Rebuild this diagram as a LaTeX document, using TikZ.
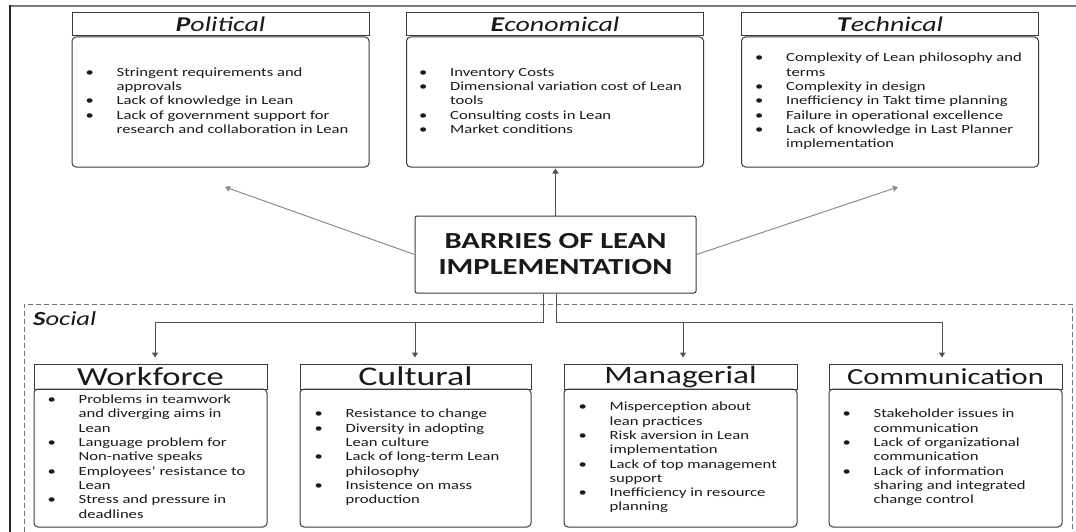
\documentclass[tikz,border=0pt]{standalone}
\usepackage{fontspec}
\setmainfont{Carlito}[FakeStretch=1.33]
\usetikzlibrary{arrows.meta}

\definecolor{boxc}{HTML}{3A3A3A}
\definecolor{txt}{HTML}{1A1A1A}
\definecolor{lightln}{HTML}{8C8C8C}
\definecolor{darkln}{HTML}{505050}
\definecolor{framegrey}{HTML}{7A7A7A}

% bullet list: bullet column, then the item text
\newcommand\blist[1]{\begin{tabular}{@{}p{31pt}@{}l@{}}#1\end{tabular}}
\newcommand\bul{\textbullet}

\tikzset{
  ttl/.style={draw=boxc, line width=1pt, inner sep=0pt, text=txt},
  toptitle/.style={ttl, minimum width=297pt, minimum height=23pt,
    font=\itshape\fontsize{21}{24}\selectfont},
  bottitle/.style={ttl, minimum width=233pt, minimum height=25pt},
  body/.style={draw=boxc, line width=1pt, rounded corners=4pt, inner sep=0pt},
  topbody/.style={body, minimum width=297pt, minimum height=130pt},
  botbody/.style={body, minimum width=233pt, minimum height=138pt},
  lst/.style={anchor=west, inner sep=0pt, text=txt,
    font=\fontsize{12.5}{14.3}\selectfont},
  hub/.style={draw=boxc, line width=1pt, rounded corners=2pt, fill=white,
    minimum width=281pt, minimum height=77pt, align=center, text=txt,
    font=\bfseries\fontsize{23}{26}\selectfont},
  tipa/.style={-{Triangle[length=5pt,width=6pt]}},
  greyarrow/.style={tipa, draw=lightln, line width=1pt, color=lightln},
  darkline/.style={draw=darkln, line width=1pt},
  darkarrow/.style={darkline, tipa, color=darkln},
}

\begin{document}
\begin{tikzpicture}[x=1pt, y=-1pt]
\useasboundingbox (0,0) rectangle (1076,532);

% outer frame: top and left edges
\draw[framegrey, line width=2pt] (10,6) -- (1076,6);
\draw[black!85, line width=2pt] (10,5) -- (10,532);

% social group (dashed)
\draw[lightln!80!black, line width=1pt, dash pattern=on 5pt off 3pt]
  (24,532) -- (24,304) -- (1072,304) -- (1072,532);
\node[anchor=base west, inner sep=0pt, text=txt,
  font=\itshape\fontsize{20}{24}\selectfont] (soc) at (33,325) {\textbf{S}ocial};

% ---------- top categories ----------
\node[toptitle] (pt) at (220.5,24.5) {\textbf{P}olitical};
\node[topbody]  (pb) at (220.5,102) {};
\node[lst] (pl) at ([xshift=14pt]pb.west) {\blist{%
  \bul & Stringent requirements and\\
       & approvals\\
  \bul & Lack of knowledge in Lean\\
  \bul & Lack of government support for\\
       & research and collaboration in Lean}};

\node[toptitle] (et) at (555,24.5) {\textbf{E}conomical};
\node[topbody]  (eb) at (555,102) {};
\node[lst] (el) at ([xshift=13pt]eb.west) {\blist{%
  \bul & Inventory Costs\\
  \bul & Dimensional variation cost of Lean\\
       & tools\\
  \bul & Consulting costs in Lean\\
  \bul & Market conditions}};

\node[toptitle] (tt) at (890,24.5) {\textbf{T}echnical};
\node[topbody]  (tb) at (890,102) {};
\node[lst] (tl) at ([xshift=14pt]tb.west) {\blist{%
  \bul & Complexity of Lean philosophy and\\
       & terms\\
  \bul & Complexity in design\\
  \bul & Inefficiency in Takt time planning\\
  \bul & Failure in operational excellence\\
  \bul & Lack of knowledge in Last Planner\\
       & implementation}};

% ---------- central node ----------
\node[hub] (cb) at (555.5,254.5) {BARRIES OF LEAN\\IMPLEMENTATION};

\coordinate (pa) at (225,187);
\coordinate (ta) at (898,187);
\draw[greyarrow] (cb.west) -- (pa);
\draw[greyarrow] (cb.east) -- (ta);
\draw[darkarrow, shorten >=1pt] (cb.north) -- (cb.north |- eb.south);

% ---------- social categories ----------
\node[bottitle, font=\fontsize{26}{29}\selectfont] (wt) at (150.5,376.5) {Workforce};
\node[botbody] (wb) at (150.5,458) {};
\node[lst] (wl) at ([xshift=14pt]wb.west) {\blist{%
  \bul & Problems in teamwork\\
       & and diverging aims in\\
       & Lean\\
  \bul & Language problem for\\
       & Non-native speaks\\
  \bul & Employees’ resistance to\\
       & Lean\\
  \bul & Stress and pressure in\\
       & deadlines}};

\node[bottitle, minimum width=231pt, font=\fontsize{27}{30}\selectfont] (ct) at (415.5,376.5) {Cultural};
\node[botbody, minimum width=231pt] (cbx) at (415.5,458) {};
\node[lst] (cl) at ([xshift=15pt]cbx.west) {\blist{%
  \bul & Resistance to change\\
  \bul & Diversity in adopting\\
       & Lean culture\\
  \bul & Lack of long-term Lean\\
       & philosophy\\
  \bul & Insistence on mass\\
       & production}};

\node[bottitle, font=\fontsize{25}{28}\selectfont] (mt) at (680.5,376.5) {Managerial};
\node[botbody] (mb) at (680.5,458) {};
\node[lst] (ml) at ([xshift=15pt]mb.west) {\blist{%
  \bul & Misperception about\\
       & lean practices\\
  \bul & Risk aversion in Lean\\
       & implementation\\
  \bul & Lack of top management\\
       & support\\
  \bul & Inefficiency in resource\\
       & planning}};

\node[bottitle, font=\fontsize{23}{26}\selectfont] (kt) at (945.5,376.5) {Communication};
\node[botbody] (kb) at (945.5,458) {};
\node[lst] (kl) at ([xshift=14pt]kb.west) {\blist{%
  \bul & Stakeholder issues in\\
       & communication\\
  \bul & Lack of organizational\\
       & communication\\
  \bul & Lack of information\\
       & sharing and integrated\\
       & change control}};

% branching from the central node into the social group
\coordinate (jl) at (543,322);
\coordinate (jr) at (556,322);
\coordinate (dw) at (155,322);
\coordinate (dc) at (415,322);
\coordinate (dm) at (683,322);
\coordinate (dk) at (942,322);
\draw[darkline] (cb.south -| jl) -- (jl) -- (dw);
\draw[darkline] (cb.south -| jr) -- (jr) -- (dk);
\draw[darkarrow, shorten >=6pt] (dw) -- (dw |- wt.north);
\draw[darkarrow, shorten >=6pt] (dc) -- (dc |- ct.north);
\draw[darkarrow, shorten >=6pt] (dm) -- (dm |- mt.north);
\draw[darkarrow, shorten >=6pt] (dk) -- (dk |- kt.north);
\end{tikzpicture}
\end{document}
